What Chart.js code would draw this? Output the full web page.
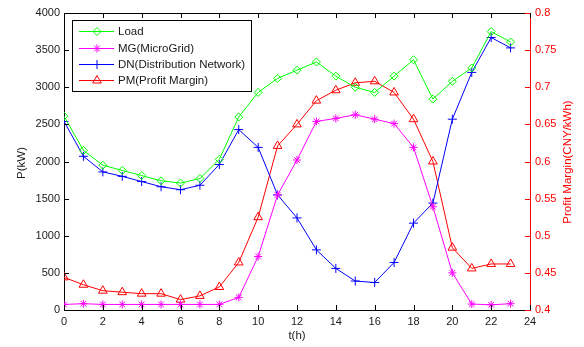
<!DOCTYPE html>
<html>
<head>
<meta charset="utf-8">
<script src="https://cdn.jsdelivr.net/npm/chart.js@4/dist/chart.umd.min.js"></script>
<style>
html,body{margin:0;padding:0;background:#fff;}
#wrap{width:584px;height:347px;position:relative;}
</style>
</head>
<body>
<div id="wrap"><canvas id="c" width="584" height="347"></canvas></div>
<script>
const hours = [0,1,2,3,4,5,6,7,8,9,10,11,12,13,14,15,16,17,18,19,20,21,22,23];
const loadKW = [2610,2150,1950,1880,1810,1740,1710,1770,2030,2600,2930,3120,3230,3340,3150,3000,2930,3150,3370,2840,3080,3260,3750,3610];
const mgKW = [75,85,75,75,75,75,75,75,75,170,720,1550,2020,2540,2580,2630,2570,2510,2190,1390,500,80,70,85];
const dnKW = [2540,2070,1860,1800,1730,1660,1620,1680,1960,2430,2190,1550,1240,810,560,390,370,640,1170,1440,2570,3200,3670,3530];
const pmPrice = [0.444,0.434,0.426,0.424,0.422,0.422,0.414,0.419,0.431,0.464,0.525,0.621,0.650,0.682,0.696,0.706,0.708,0.693,0.657,0.600,0.484,0.456,0.462,0.462];
const seriesNames = ['Load','MG(MicroGrid)','DN(Distribution Network)','PM(Profit Margin)'];
const xTicks = [0,2,4,6,8,10,12,14,16,18,20,22,24];
const yTicks = [0,500,1000,1500,2000,2500,3000,3500,4000];
const y1Ticks = [0.4,0.45,0.5,0.55,0.6,0.65,0.7,0.75,0.8];

const FONT = '"Liberation Sans", Arial, sans-serif';
const pts = arr => arr.map((v,i)=>({x:hours[i], y:v}));

function ds(label, data, color, style, r, axis){
  return {label, data: pts(data), yAxisID: axis, borderColor: color, backgroundColor: color,
    borderWidth: 1, pointStyle: style, pointRadius: r, pointBorderWidth: 1,
    pointBorderColor: color, pointBackgroundColor: 'rgba(0,0,0,0)', tension: 0, fill: false};
}

const frame = {
  id: 'frame',
  afterDatasetsDraw(chart){
    const ctx = chart.ctx, a = chart.chartArea;
    const sx = chart.scales.x, sy = chart.scales.y, sy1 = chart.scales.y1;
    const L = 5;
    ctx.save();
    ctx.lineWidth = 1;
    ctx.strokeStyle = '#000';
    ctx.beginPath();
    ctx.moveTo(a.left, Math.round(a.top)+0.5); ctx.lineTo(a.right, Math.round(a.top)+0.5);
    ctx.stroke();
    ctx.beginPath();
    xTicks.forEach(t=>{
      const px = Math.round(sx.getPixelForValue(t))+0.5;
      ctx.moveTo(px, a.bottom); ctx.lineTo(px, a.bottom-L);
      ctx.moveTo(px, a.top); ctx.lineTo(px, a.top+L);
    });
    yTicks.forEach(t=>{
      const py = Math.round(sy.getPixelForValue(t))+0.5;
      ctx.moveTo(a.left, py); ctx.lineTo(a.left+L, py);
    });
    ctx.stroke();
    ctx.strokeStyle = '#ff0000';
    ctx.beginPath();
    y1Ticks.forEach(t=>{
      const py = Math.round(sy1.getPixelForValue(t))+0.5;
      ctx.moveTo(a.right, py); ctx.lineTo(a.right-L, py);
    });
    ctx.stroke();
    ctx.font = '11.5px ' + FONT;
    ctx.textAlign = 'center'; ctx.textBaseline = 'middle';
    ctx.fillStyle = '#1a1a1a';
    ctx.fillText('t(h)', (a.left+a.right)/2, 336);
    ctx.save();
    ctx.translate(22, 163);
    ctx.rotate(-Math.PI/2);
    ctx.fillText('P(kW)', 0, 0);
    ctx.restore();
    ctx.save();
    ctx.fillStyle = '#ff0000';
    ctx.translate(568, 162);
    ctx.rotate(-Math.PI/2);
    ctx.fillText('Profit Margin(CNY/kWh)', 0, 0);
    ctx.restore();

    const bx = 72.5, by = 20.5, bw = 179, bh = 71;
    ctx.fillStyle = '#fff';
    ctx.fillRect(bx, by, bw, bh);
    ctx.strokeStyle = '#000';
    ctx.strokeRect(bx, by, bw, bh);
    ctx.font = '11.5px ' + FONT;
    ctx.textAlign = 'left'; ctx.textBaseline = 'middle';
    const rows = [31, 47.5, 63.5, 79.5];
    chart.data.datasets.forEach((d,i)=>{
      const y = rows[i];
      ctx.strokeStyle = d.borderColor;
      ctx.lineWidth = 1;
      ctx.beginPath();
      ctx.moveTo(79, Math.round(y)+0.5); ctx.lineTo(114, Math.round(y)+0.5);
      ctx.stroke();
      ctx.fillStyle = 'rgba(0,0,0,0)';
      Chart.helpers.drawPoint(ctx, {pointStyle: d.pointStyle, radius: d.pointRadius, rotation: 0, borderWidth: 1}, 97, Math.round(y)+0.5);
      ctx.fillStyle = '#1a1a1a';
      ctx.fillText(seriesNames[i], 118, y+1);
    });
    ctx.restore();
  }
};

new Chart(document.getElementById('c'), {
  type: 'line',
  data: {
    datasets: [
      ds(seriesNames[0], loadKW, '#00ff00', 'rectRot', 4, 'y'),
      ds(seriesNames[1], mgKW, '#ff00ff', 'star', 4, 'y'),
      ds(seriesNames[2], dnKW, '#0000ff', 'cross', 4.5, 'y'),
      ds(seriesNames[3], pmPrice, '#ff0000', 'triangle', 5, 'y1')
    ]
  },
  options: {
    responsive: false,
    devicePixelRatio: 1,
    animation: false,
    layout: {padding: {top: 13, left: 0, right: 0, bottom: 0}},
    plugins: {legend: {display: false}, tooltip: {enabled: false}},
    scales: {
      x: {
        type: 'linear', min: 0, max: 24,
        afterFit(s){ s.height = 37; },
        afterBuildTicks(s){ s.ticks = xTicks.map(v=>({value:v})); },
        grid: {display: false, drawTicks: false, tickLength: 0},
        border: {display: true, color: '#000', width: 1},
        ticks: {padding: 5, color: '#1a1a1a', font: {family: FONT, size: 11}, maxRotation: 0, autoSkip: false}
      },
      y: {
        position: 'left', min: 0, max: 4000,
        afterFit(s){ s.width = 64; },
        afterBuildTicks(s){ s.ticks = yTicks.map(v=>({value:v})); },
        grid: {display: false, drawTicks: false, tickLength: 0},
        border: {display: true, color: '#000', width: 1},
        ticks: {padding: 4, color: '#1a1a1a', font: {family: FONT, size: 11}, autoSkip: false,
          callback: v => String(v)}
      },
      y1: {
        position: 'right', min: 0.4, max: 0.8,
        afterFit(s){ s.width = 54; },
        afterBuildTicks(s){ s.ticks = y1Ticks.map(v=>({value:v})); },
        grid: {display: false, drawTicks: false, tickLength: 0},
        border: {display: true, color: '#ff0000', width: 1},
        ticks: {padding: 5, color: '#ff0000', font: {family: FONT, size: 11}, autoSkip: false,
          callback: v => String(Number(v.toFixed(2)))}
      }
    }
  },
  plugins: [frame]
});
</script>
</body>
</html>
